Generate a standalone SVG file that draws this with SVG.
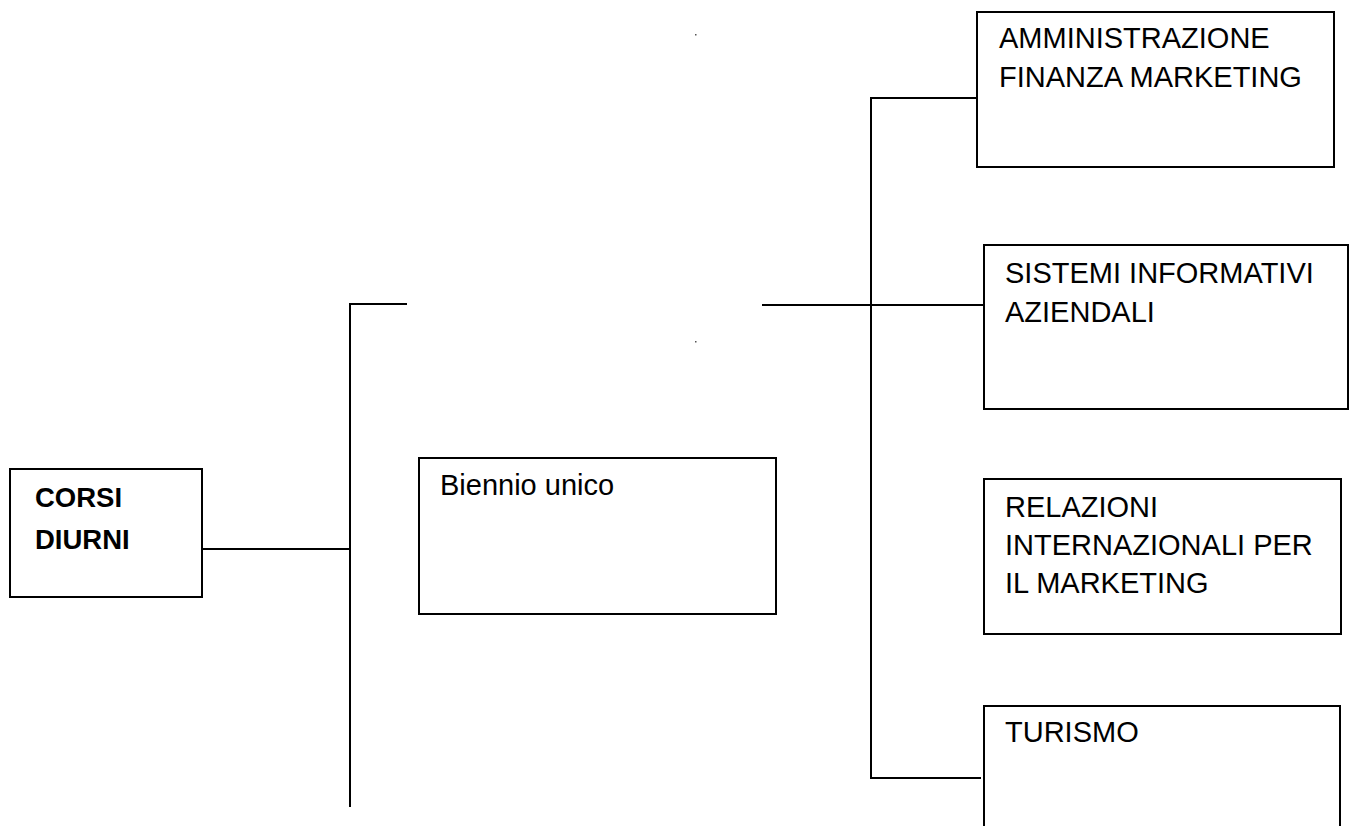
<svg xmlns="http://www.w3.org/2000/svg" width="1354" height="828" viewBox="0 0 1354 828">
<style>
.box{fill:#fff;stroke:#000;stroke-width:2}
.t{font-family:"Liberation Sans",Arial,sans-serif;font-size:29px;fill:#000}
.b{font-family:"Liberation Sans",Arial,sans-serif;font-size:27.5px;font-weight:bold;fill:#000}
.c{fill:none;stroke:#000;stroke-width:2}
</style>
<rect width="1354" height="828" fill="#fff"/>
<g id="connectors">
<polyline class="c" points="202,549 350,549"/>
<polyline class="c" points="407,304 350,304 350,807"/>
<polyline class="c" points="762,305 983,305"/>
<polyline class="c" points="977,98 871,98 871,778 981,778"/>
</g>
<g id="marks">
<rect x="695" y="34" width="1.5" height="1.5" fill="#555"/>
<rect x="695" y="341" width="1.5" height="1.5" fill="#555"/>
</g>
<g id="corsi-diurni">
<rect class="box" x="10" y="469" width="192" height="128"/>
<text class="b" x="35" y="507">CORSI</text>
<text class="b" x="35" y="549">DIURNI</text>
</g>
<g id="biennio">
<rect class="box" x="419" y="458" width="357" height="156"/>
<text class="t" x="440" y="495">Biennio unico</text>
</g>
<g id="afm">
<rect class="box" x="977" y="12" width="357" height="155"/>
<text class="t" x="999" y="48">AMMINISTRAZIONE</text>
<text class="t" x="999" y="87">FINANZA MARKETING</text>
</g>
<g id="sia">
<rect class="box" x="984" y="245" width="364" height="164"/>
<text class="t" x="1005" y="283">SISTEMI INFORMATIVI</text>
<text class="t" x="1005" y="322">AZIENDALI</text>
</g>
<g id="rim">
<rect class="box" x="984" y="479" width="357" height="155"/>
<text class="t" x="1005" y="517">RELAZIONI</text>
<text class="t" x="1005" y="555">INTERNAZIONALI PER</text>
<text class="t" x="1005" y="593">IL MARKETING</text>
</g>
<g id="turismo">
<path class="c" d="M984,826 L984,706 L1340,706 L1340,826"/>
<text class="t" x="1005" y="742">TURISMO</text>
</g>
</svg>
